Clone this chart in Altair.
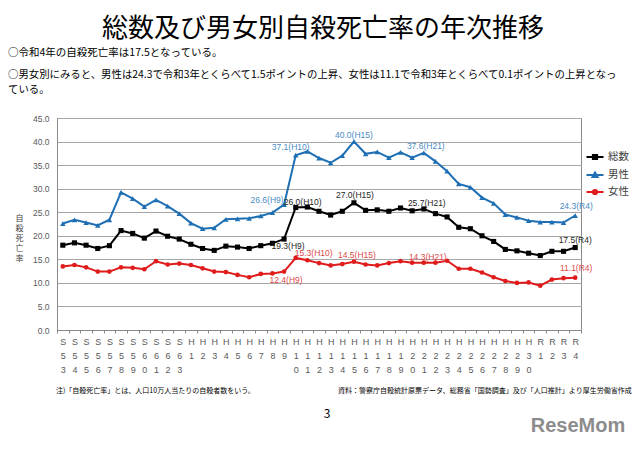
import altair as alt
import pandas as pd

# ---------------- data ----------------
years = ["S53", "S54", "S55", "S56", "S57", "S58", "S59", "S60", "S61", "S62", "S63",
         "H1", "H2", "H3", "H4", "H5", "H6", "H7", "H8", "H9", "H10",
         "H11", "H12", "H13", "H14", "H15", "H16", "H17", "H18", "H19", "H20",
         "H21", "H22", "H23", "H24", "H25", "H26", "H27", "H28", "H29", "H30",
         "R1", "R2", "R3", "R4"]

total = [18.0, 18.5, 18.0, 17.3, 17.9, 21.1, 20.5, 19.5, 21.0, 19.9, 19.3,
         18.2, 17.3, 16.9, 17.8, 17.6, 17.3, 17.9, 18.4, 19.3, 26.0,
         26.1, 25.2, 24.4, 25.2, 27.0, 25.4, 25.5, 25.2, 25.9, 25.3,
         25.7, 24.7, 24.0, 21.8, 21.5, 20.0, 18.8, 17.1, 16.8, 16.3,
         15.8, 16.7, 16.7, 17.5]

male = [22.6, 23.4, 22.8, 22.2, 23.4, 29.2, 27.9, 26.2, 27.6, 26.3, 24.7,
        22.7, 21.5, 21.7, 23.5, 23.6, 23.7, 24.2, 24.9, 26.6, 37.1,
        37.9, 36.5, 35.5, 37.0, 40.0, 37.4, 37.8, 36.6, 37.7, 36.6,
        37.6, 35.8, 33.7, 31.0, 30.3, 28.1, 26.9, 24.5, 23.9, 23.2,
        22.9, 22.9, 22.8, 24.3]

female = [13.5, 13.8, 13.3, 12.4, 12.4, 13.3, 13.2, 12.9, 14.6, 13.9, 14.1,
          13.8, 13.1, 12.4, 12.3, 11.7, 11.2, 11.9, 12.0, 12.4, 15.3,
          14.8, 14.2, 13.7, 14.0, 14.5, 13.9, 13.7, 14.2, 14.6, 14.3,
          14.3, 14.3, 14.7, 13.0, 13.0, 12.2, 11.2, 10.4, 10.0, 10.1,
          9.4, 10.7, 11.0, 11.1]

series_names = ["総数", "男性", "女性"]
y_ticks = [0, 5, 10, 15, 20, 25, 30, 35, 40, 45]

title_text = "総数及び男女別自殺死亡率の年次推移"
line1 = "○令和4年の自殺死亡率は17.5となっている。"
line2 = "○男女別にみると、男性は24.3で令和3年とくらべて1.5ポイントの上昇、女性は11.1で令和3年とくらべて0.1ポイントの上昇となっ"
line3 = "ている。"
note_text = "注)「自殺死亡率」とは、人口10万人当たりの自殺者数をいう。"
source_text = "資料：警察庁自殺統計原票データ、総務省「国勢調査」及び「人口推計」より厚生労働省作成"
page_no = "3"
logo_text = "ReseMom"

# ---------------- styling ----------------
line_colors = ["#000000", "#1f6fb4", "#e01b1b"]
label_colors = {"総数": "#262626", "男性": "#4a8bc4", "女性": "#dc4a4c"}
JP = "Noto Sans CJK JP"
LAT = "Liberation Sans"

rows = []
for name, vals in zip(series_names, [total, male, female]):
    for yr, v in zip(years, vals):
        rows.append({"year": yr, "series": name, "value": v,
                     "label": f"{v:.1f}({yr})"})
df = pd.DataFrame(rows)

x_enc = alt.X(
    "year:N", sort=years,
    scale=alt.Scale(type="band", domain=years, paddingInner=0, paddingOuter=0),
    axis=alt.Axis(title=None, tickBand="extent",
                  labelExpr="isValid(datum.value) ? split(datum.value, '') : ''",
                  labelAngle=0, labelBaseline="top", labelLineHeight=14,
                  labelFontSize=9, labelColor="#595959", labelFont=LAT,
                  labelOverlap=False, tickSize=3, tickColor="#8a8a8a",
                  domainColor="#8a8a8a", labelPadding=4, grid=False),
)
y_enc = alt.Y(
    "value:Q",
    scale=alt.Scale(domain=[0, 45], nice=False, zero=True),
    axis=alt.Axis(values=y_ticks, format=".1f", title=["自", "殺", "死", "亡", "率"],
                  titleAngle=0, titleX=-38, titleY=96, titleBaseline="top",
                  titleAlign="center", titleFontSize=8, titleLineHeight=10,
                  titleFont=JP, titleFontWeight="normal", titleColor="#404040",
                  ticks=False, domainColor="#8a8a8a", gridColor="#a6a6a6",
                  labelFontSize=8.5, labelPadding=8, labelColor="#595959",
                  labelFont=LAT),
)

base = alt.Chart(df)

line_layers = [
    base.transform_filter(alt.datum.series == s)
    .mark_line(strokeWidth=2, color=col)
    .encode(x=x_enc, y=y_enc)
    for s, col in zip(series_names, line_colors)
]

pt_specs = [("総数", "square", 26, line_colors[0]),
            ("男性", "triangle-up", 30, line_colors[1]),
            ("女性", "circle", 22, line_colors[2])]
point_layers = [
    base.transform_filter(alt.datum.series == s)
    .mark_point(shape=shp, filled=True, size=sz, color=col, opacity=1)
    .encode(x=x_enc, y=y_enc)
    for s, shp, sz, col in pt_specs
]

# legend-only layer (no marks drawn: filtered to nothing, scale domains are explicit)
leg_paths = ["M-1.7,0H1.7M-0.42,-0.42H0.42V0.42H-0.42Z",
             "M-1.7,0H1.7M0,-0.5L0.5,0.38H-0.5Z",
             "M-1.7,0H1.7M0.42,0A0.42,0.42,0,1,1,-0.42,0A0.42,0.42,0,1,1,0.42,0Z"]
leg = alt.Legend(title=None, orient="none", legendX=532, legendY=33, padding=0,
                 symbolSize=100, symbolStrokeWidth=2, symbolOpacity=1,
                 labelFontSize=10.5, labelFont=JP, labelColor="#404040",
                 labelOffset=7, rowPadding=4)
legend_layer = base.transform_filter(alt.datum.value < 0).mark_point(
    filled=True, strokeWidth=2).encode(
    x=x_enc, y=y_enc,
    fill=alt.Fill("series:N", scale=alt.Scale(domain=series_names, range=line_colors), legend=leg),
    stroke=alt.Stroke("series:N", scale=alt.Scale(domain=series_names, range=line_colors), legend=leg),
    shape=alt.Shape("series:N", scale=alt.Scale(domain=series_names, range=leg_paths), legend=leg),
)

# data labels (series, year, dx, dy)
annotations = [
    ("男性", "H10", -5, -8), ("男性", "H9", -17, -5), ("総数", "H10", 7, -6),
    ("総数", "H9", 4, 7), ("女性", "H10", 18, -5), ("女性", "H9", 2, 8),
    ("男性", "H15", 0, -7), ("総数", "H15", 1, -8), ("女性", "H15", 3, -7),
    ("男性", "H21", 2, -7), ("総数", "H21", 3, -6), ("女性", "H21", 4, -6),
    ("男性", "R4", 1, -10), ("総数", "R4", 0, -8), ("女性", "R4", 1, -10),
]
label_layers = [
    base.transform_filter((alt.datum.series == s) & (alt.datum.year == yr))
    .mark_text(dx=dx, dy=dy, fontSize=8.5, font=LAT, color=label_colors[s],
               baseline="middle", align="center")
    .encode(x=x_enc, y=y_enc, text="label:N")
    for s, yr, dx, dy in annotations
]


def page_text(txt, x, y, size, align="left", color="#000000", font=JP, weight="normal"):
    return alt.Chart(pd.DataFrame({"t": [txt]})).mark_text(
        align=align, baseline="alphabetic", fontSize=size, font=font,
        color=color, fontWeight=weight
    ).encode(x=alt.value(x), y=alt.value(y), text="t:N")


texts = [
    page_text(title_text, 266, -81, 26, align="center"),
    page_text(line1, -49, -62, 10.5),
    page_text(line2, -49, -40, 10.4),
    page_text(line3, -49, -25, 10.4),
    page_text(note_text, -1, 275, 7),
    page_text(source_text, 281, 275, 7),
    page_text(page_no, 270, 300, 12, align="center"),
    page_text(logo_text, 521, 314, 20, align="center", color="#8c8c8c",
              font="Liberation Sans", weight="bold"),
]

chart = alt.layer(*line_layers, *point_layers, legend_layer, *label_layers, *texts).properties(
    width=524, height=212,
    padding={"left": 49, "top": 110, "right": 51, "bottom": 107},
    autosize=alt.AutoSizeParams(type="none"),
    background="white",
).configure_view(stroke="#8a8a8a", strokeWidth=1)

chart.save("out.html", embed_options={"renderer": "svg", "actions": False})
